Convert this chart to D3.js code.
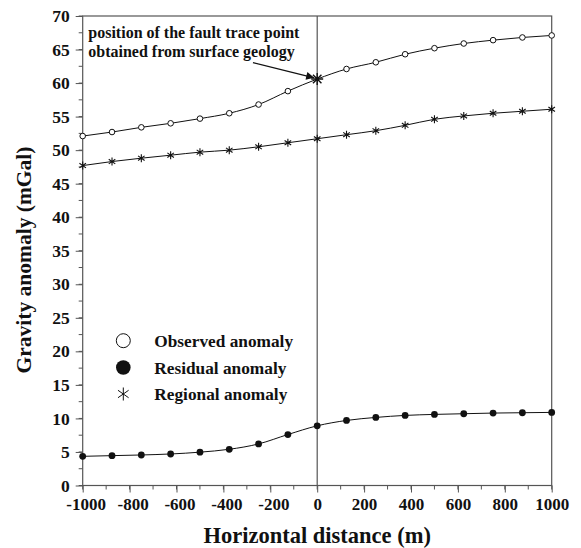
<!DOCTYPE html>
<html>
<head>
<meta charset="utf-8">
<script src="https://cdn.jsdelivr.net/npm/d3@7"></script>
<style>
  html, body { margin: 0; padding: 0; background: #fff; }
  svg { display: block; }
  text { font-family: "Liberation Serif", "Times New Roman", serif; font-weight: bold; fill: #111; }
</style>
</head>
<body>
<svg id="chart" width="581" height="548"></svg>
<script>
// Profile positions (m) and gravity values (mGal)
const distance = [-1000, -875, -750, -625, -500, -375, -250, -125, 0, 125, 250, 375, 500, 625, 750, 875, 1000];
const observed = [52.1, 52.7, 53.4, 54.0, 54.7, 55.5, 56.8, 58.8, 60.6, 62.1, 63.1, 64.3, 65.2, 65.9, 66.4, 66.8, 67.1];
const regional = [47.7, 48.3, 48.8, 49.25, 49.7, 50.0, 50.5, 51.1, 51.7, 52.3, 52.9, 53.7, 54.6, 55.1, 55.5, 55.8, 56.1];
const residual = [4.35, 4.45, 4.55, 4.7, 4.97, 5.4, 6.2, 7.6, 8.9, 9.7, 10.15, 10.45, 10.6, 10.7, 10.8, 10.85, 10.9];

const xTicks = [-1000, -800, -600, -400, -200, 0, 200, 400, 600, 800, 1000];
const yTicks = [0, 5, 10, 15, 20, 25, 30, 35, 40, 45, 50, 55, 60, 65, 70];
const legendLabels = ["Observed anomaly", "Residual anomaly", "Regional anomaly"];
const faultPoint = { x: 0, y: 60.6 };
const noteLines = ["position of the fault trace point", "obtained from surface geology"];

const svg = d3.select("#chart");
const plotLeft = 82.7, plotRight = 551.7, plotTop = 16, plotBottom = 485.5;

const x = d3.scaleLinear().domain([-1000, 1000]).range([plotLeft, plotRight]);
const y = d3.scaleLinear().domain([0, 70]).range([plotBottom, plotTop]);

const frameColor = "#555";
const plainNumber = d => String(d);   // ASCII hyphen for negatives

// Minor ticks
const xMinor = d3.range(-1000, 1001, 100);
const yMinor = d3.range(0, 70.01, 2.5);

// Bottom axis
const xAxis = d3.axisBottom(x).tickValues(xTicks).tickSize(7).tickPadding(5).tickFormat(plainNumber);
const gx = svg.append("g").attr("transform", `translate(0,${plotBottom})`);
gx.selectAll(".minor").data(xMinor).join("line")
  .attr("x1", d => x(d)).attr("x2", d => x(d)).attr("y1", 0).attr("y2", 4)
  .attr("stroke", frameColor).attr("stroke-width", 1);
gx.call(xAxis);
gx.select(".domain").remove();
gx.selectAll(".tick line").attr("stroke", frameColor).attr("stroke-width", 1);
gx.selectAll(".tick text").attr("font-size", 17).attr("font-family", "Liberation Serif").attr("font-weight", "bold").attr("fill", "#111")
  .attr("dx", d => d < 0 ? 3 : 0);

// Left axis
const yAxis = d3.axisLeft(y).tickValues(yTicks).tickSize(7).tickPadding(6).tickFormat(plainNumber);
const gy = svg.append("g").attr("transform", `translate(${plotLeft},0)`);
gy.selectAll(".minor").data(yMinor).join("line")
  .attr("x1", 0).attr("x2", -4).attr("y1", d => y(d)).attr("y2", d => y(d))
  .attr("stroke", frameColor).attr("stroke-width", 1);
gy.call(yAxis);
gy.select(".domain").remove();
gy.selectAll(".tick line").attr("stroke", frameColor).attr("stroke-width", 1);
gy.selectAll(".tick text").attr("font-size", 17.5).attr("font-family", "Liberation Serif").attr("font-weight", "bold").attr("fill", "#111");

// Frame and the zero-distance line
svg.append("rect")
  .attr("x", plotLeft).attr("y", plotTop).attr("width", plotRight - plotLeft).attr("height", plotBottom - plotTop)
  .attr("fill", "none").attr("stroke", frameColor).attr("stroke-width", 1.2);
svg.append("line")
  .attr("x1", x(0)).attr("x2", x(0)).attr("y1", plotTop).attr("y2", plotBottom)
  .attr("stroke", frameColor).attr("stroke-width", 1.2);

// Curves
const line = d3.line().x(d => x(d[0])).y(d => y(d[1])).curve(d3.curveMonotoneX);
const series = [observed, residual, regional];
series.forEach(vals => {
  svg.append("path")
    .datum(distance.map((d, i) => [d, vals[i]]))
    .attr("d", line)
    .attr("fill", "none").attr("stroke", "#111").attr("stroke-width", 1);
});

// Asterisk marker path (vertical, horizontal and two diagonals)
function star(cx, cy, r, arms) {
  const a = Math.PI / 180;
  return arms.map(t => {
    const dx = r * Math.cos(t * a), dy = r * Math.sin(t * a);
    return `M${cx - dx},${cy - dy}L${cx + dx},${cy + dy}`;
  }).join("");
}
const sixArms = [90, 35, -35];
const eightArms = [90, 0, 45, -45];

// Observed: open circles
svg.append("g").selectAll("circle")
  .data(distance.map((d, i) => [d, observed[i]]).filter(p => p[0] !== faultPoint.x))
  .join("circle")
  .attr("cx", d => x(d[0])).attr("cy", d => y(d[1])).attr("r", 2.8)
  .attr("fill", "#fff").attr("stroke", "#111").attr("stroke-width", 1);

// Residual: filled circles
svg.append("g").selectAll("circle")
  .data(distance.map((d, i) => [d, residual[i]]))
  .join("circle")
  .attr("cx", d => x(d[0])).attr("cy", d => y(d[1])).attr("r", 3.4)
  .attr("fill", "#111");

// Regional: asterisks
svg.append("g").selectAll("path")
  .data(distance.map((d, i) => [d, regional[i]]))
  .join("path")
  .attr("d", d => star(x(d[0]), y(d[1]), 4, sixArms))
  .attr("stroke", "#111").attr("stroke-width", 1.1).attr("fill", "none");

// Fault trace point marker
svg.append("path")
  .attr("d", star(x(faultPoint.x), y(faultPoint.y), 6, eightArms))
  .attr("stroke", "#111").attr("stroke-width", 1.4).attr("fill", "none");

// Annotation
const note = svg.append("text").attr("x", 88.3).attr("y", 38).attr("font-size", 16);
noteLines.forEach((t, i) => {
  note.append("tspan").attr("x", 88.3).attr("dy", i === 0 ? 0 : 18.6).text(t);
});
svg.append("defs").append("marker")
  .attr("id", "head").attr("viewBox", "0 0 10 10").attr("refX", 10).attr("refY", 5)
  .attr("markerWidth", 13).attr("markerHeight", 8).attr("markerUnits", "userSpaceOnUse")
  .attr("orient", "auto")
  .append("path").attr("d", "M0,0L10,5L0,10Z").attr("fill", "#111");
svg.append("line")
  .attr("x1", 253).attr("y1", 62.7)
  .attr("x2", x(faultPoint.x) - 3).attr("y2", y(faultPoint.y) - 1.2)
  .attr("stroke", "#111").attr("stroke-width", 1.2).attr("marker-end", "url(#head)");

// Legend
const legendY = [340.7, 367.5, 394];
const lg = svg.append("g");
lg.append("circle").attr("cx", 123.3).attr("cy", legendY[0]).attr("r", 7)
  .attr("fill", "#fff").attr("stroke", "#111").attr("stroke-width", 1);
lg.append("circle").attr("cx", 123.3).attr("cy", legendY[1]).attr("r", 7.3).attr("fill", "#111");
lg.append("path").attr("d", star(123.3, legendY[2], 6.5, sixArms))
  .attr("stroke", "#111").attr("stroke-width", 1).attr("fill", "none");
legendLabels.forEach((t, i) => {
  lg.append("text").attr("x", 154.3).attr("y", legendY[i] + 6).attr("font-size", 17.3).text(t);
});

// Axis titles
svg.append("text")
  .attr("x", (plotLeft + plotRight) / 2).attr("y", 543)
  .attr("text-anchor", "middle").attr("font-size", 22.5)
  .text("Horizontal distance (m)");
svg.append("text")
  .attr("transform", "translate(31,260) rotate(-90)")
  .attr("text-anchor", "middle").attr("font-size", 21.5)
  .text("Gravity anomaly (mGal)");
</script>
</body>
</html>
